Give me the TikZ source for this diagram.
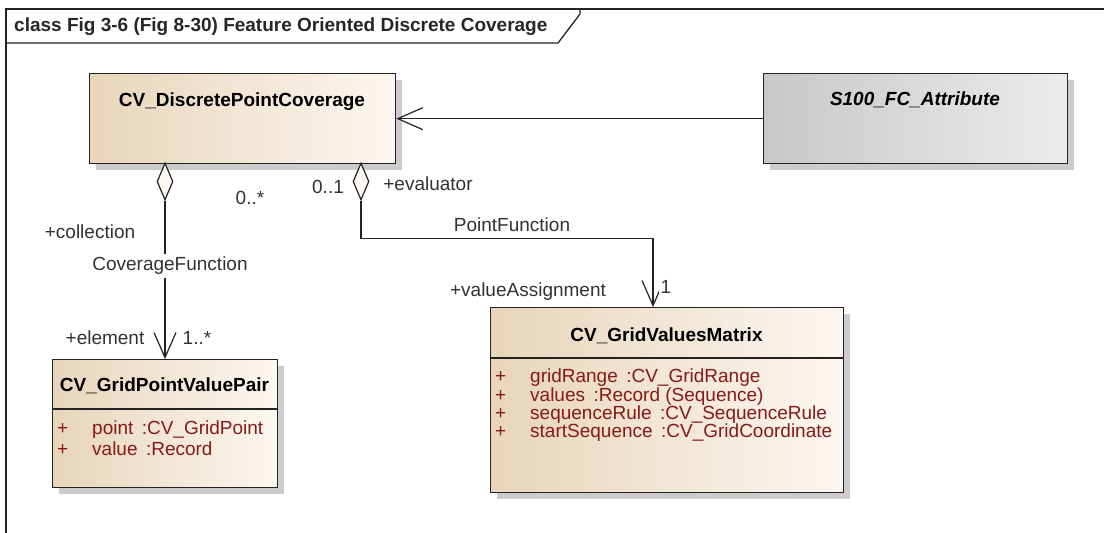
\documentclass[tikz,border=0pt]{standalone}
\usepackage{fontspec}
\setmainfont{Liberation Sans}
\usetikzlibrary{arrows.meta,shapes.geometric,shadows}
\definecolor{tanD}{RGB}{232,213,186}
\definecolor{tanL}{RGB}{252,247,240}
\definecolor{greyD}{RGB}{200,200,200}
\definecolor{greyL}{RGB}{236,236,236}
\definecolor{attrc}{RGB}{135,25,25}
\definecolor{edgec}{RGB}{35,35,35}
\definecolor{labc}{RGB}{50,50,50}
\begin{document}
\begin{tikzpicture}[x=1pt,y=-1pt,
  every node/.style={font=\fontsize{19}{22}\selectfont},
  clsbox/.style={draw=edgec, line width=1.3pt, anchor=north west, inner sep=0pt,
    left color=tanD, right color=tanL,
    drop shadow={shadow xshift=6pt, shadow yshift=-6pt, fill=black, opacity=.2}},
  greybox/.style={clsbox, left color=greyD, right color=greyL},
  ctitle/.style={font=\fontsize{19}{22}\selectfont\bfseries, text=black, inner sep=0pt},
  attrtxt/.style={text=attrc, anchor=west, inner sep=0pt},
  lab/.style={text=labc, inner sep=1pt},
  conn/.style={draw=edgec, line width=1.2pt},
  openarrow/.style={-{Straight Barb[length=25pt,width=22pt]}},
  aggdiamond/.style={diamond, draw=edgec, line width=1.2pt, fill=tanL, inner sep=0pt,
    minimum width=16pt, minimum height=37pt},
  framec/.style={draw=edgec, line width=1.3pt}
]
\useasboundingbox (0,0) rectangle (1104,533);
% frame
\draw[framec] (6,533) -- (6,9) -- (1104,9);
\draw[framec] (6,43) -- (558,43) -- (580,14) -- (580,9);
\node[font=\fontsize{19}{22}\selectfont\bfseries, text=black!85, anchor=west, inner sep=0pt] (frametitle) at (14,27) {class Fig 3-6 (Fig 8-30) Feature Oriented Discrete Coverage};

% classes
\node[clsbox, minimum width=306pt, minimum height=90pt] (dpc) at (89,73) {};
\node[ctitle] (dpcT) at (242,102) {CV\_DiscretePointCoverage};

\node[greybox, minimum width=304pt, minimum height=90pt] (s100) at (763,73) {};
\node[ctitle, font=\fontsize{19}{22}\selectfont\bfseries\itshape] (s100T) at (915,100) {S100\_FC\_Attribute};

\node[clsbox, minimum width=225pt, minimum height=128pt] (gpvp) at (52,359) {};
\node[ctitle] (gpvpT) at (164.5,386) {CV\_GridPointValuePair};
\draw[conn, line width=1.3pt] (gpvp.west |- 0,409) -- (gpvp.east |- 0,409);
\node[attrtxt] (gpvpA1) at (57,430) {\makebox[35pt][l]{+}point\ \,:CV\_GridPoint};
\node[attrtxt] (gpvpA2) at (57,449) {\makebox[35pt][l]{+}value\ \,:Record};

\node[clsbox, minimum width=353pt, minimum height=185pt] (gvm) at (490,307) {};
\node[ctitle] (gvmT) at (666.5,336) {CV\_GridValuesMatrix};
\draw[conn, line width=1.3pt] (gvm.west |- 0,358) -- (gvm.east |- 0,358);
\node[attrtxt] (gvmA1) at (495,378) {\makebox[35pt][l]{+}gridRange\ \,:CV\_GridRange};
\node[attrtxt] (gvmA2) at (495,397) {\makebox[35pt][l]{+}values\ \,:Record (Sequence)};
\node[attrtxt] (gvmA3) at (495,415) {\makebox[35pt][l]{+}sequenceRule\ \,:CV\_SequenceRule};
\node[attrtxt] (gvmA4) at (495,433) {\makebox[35pt][l]{+}startSequence\ \,:CV\_GridCoordinate};

% association S100 -> DPC
\draw[conn, openarrow] (s100.west) -- (dpc.east);

% CoverageFunction
\node[aggdiamond] (dg1) at (165,181.5) {};
\draw[conn, openarrow] (dg1.south) -- (dg1.south |- gpvp.north);
\node[lab, fill=white, inner sep=3pt] (covf) at (170,266) {CoverageFunction};
\node[lab] (l0s) at (250,198) {0..*};
\node[lab] (lcoll) at (90,232) {+collection};
\node[lab] (lelem) at (105,338) {+element};
\node[lab] (l1s) at (197,338) {1..*};

% PointFunction
\node[aggdiamond] (dg2) at (361,181.5) {};
\coordinate (gvmIn) at (653,307);
\draw[conn, openarrow] (dg2.south) -- ++(0,38) -| (gvmIn);
\node[lab] (pf) at (512,225) {PointFunction};
\node[lab] (l01) at (328,187) {0..1};
\node[lab] (leval) at (428,184) {+evaluator};
\node[lab] (lva) at (528,292) {+valueAssignment};
\node[lab, fill=white, inner sep=1.5pt] (l1) at (666,287) {1};
\end{tikzpicture}
\end{document}
